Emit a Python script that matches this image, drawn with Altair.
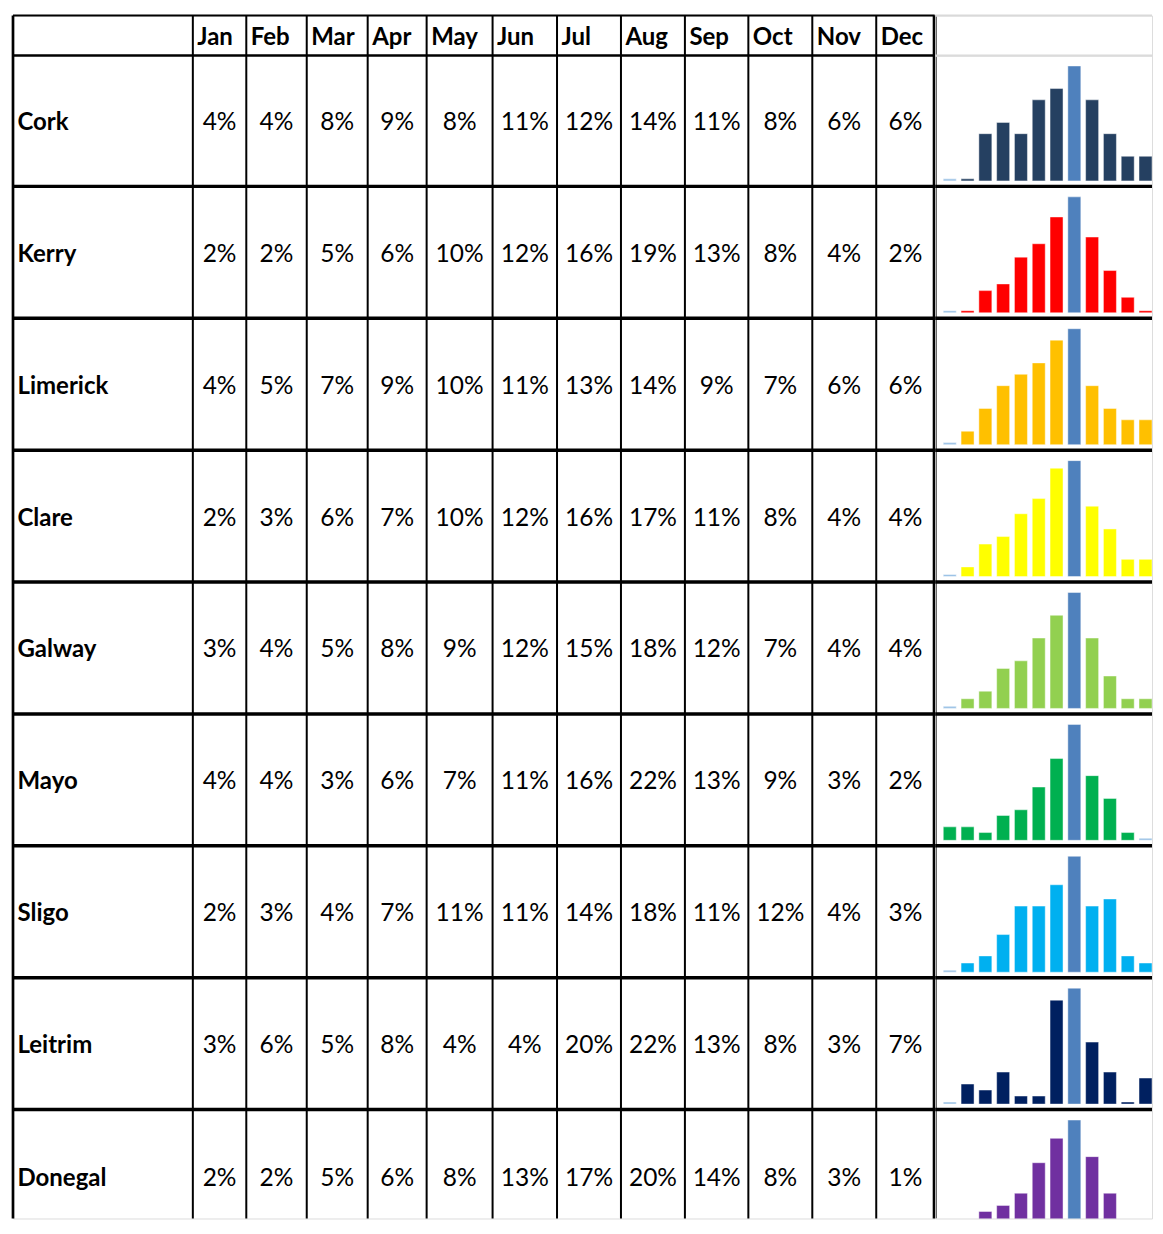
import altair as alt
import pandas as pd

# ---------------- data ----------------
COUNTIES = ["Cork", "Kerry", "Limerick", "Clare", "Galway", "Mayo", "Sligo", "Leitrim", "Donegal"]
MONTHS = ["Jan", "Feb", "Mar", "Apr", "May", "Jun", "Jul", "Aug", "Sep", "Oct", "Nov", "Dec"]

CORK = [4, 4, 8, 9, 8, 11, 12, 14, 11, 8, 6, 6]
KERRY = [2, 2, 5, 6, 10, 12, 16, 19, 13, 8, 4, 2]
LIMERICK = [4, 5, 7, 9, 10, 11, 13, 14, 9, 7, 6, 6]
CLARE = [2, 3, 6, 7, 10, 12, 16, 17, 11, 8, 4, 4]
GALWAY = [3, 4, 5, 8, 9, 12, 15, 18, 12, 7, 4, 4]
MAYO = [4, 4, 3, 6, 7, 11, 16, 22, 13, 9, 3, 2]
SLIGO = [2, 3, 4, 7, 11, 11, 14, 18, 11, 12, 4, 3]
LEITRIM = [3, 6, 5, 8, 4, 4, 20, 22, 13, 8, 3, 7]
DONEGAL = [2, 2, 5, 6, 8, 13, 17, 20, 14, 8, 3, 1]

SERIES = [CORK, KERRY, LIMERICK, CLARE, GALWAY, MAYO, SLIGO, LEITRIM, DONEGAL]
BAR_COLORS = ["#254061", "#FF0000", "#FFC000", "#FFFF00", "#92D050",
              "#00B050", "#00B0F0", "#002060", "#7030A0"]
HIGH_COLOR = "#4F81BD"
LOW_COLOR = "#9DC3E6"

# ---------------- layout (styling only) ----------------
NAME_W = 180
MONTH_W = [53.5, 60.5, 61, 59, 66, 64.5, 64, 64, 63.5, 64, 64, 58.5]
HEADER_H = 40
ROW_H = [131, 132, 132, 132, 132, 132, 132, 132, 134]
VISIBLE_H = 1204          # part of the table that fits in the page
SPARK_W = 217             # visible width of the sparkline column
FONT = "Lato"
FS = 24
FS_VAL = 24.5
TEXT_DY = 9.5

edges = [0, NAME_W]
for w in MONTH_W:
    edges.append(edges[-1] + w)
TABLE_W = edges[-1]
tops = [0, HEADER_H]
for h in ROW_H:
    tops.append(tops[-1] + h)

xs = alt.Scale(domain=[0, TABLE_W], range=[0, TABLE_W], nice=False, zero=False)
ys = alt.Scale(domain=[0, VISIBLE_H], range=[0, VISIBLE_H], nice=False, zero=False)
X = lambda f: alt.X(f, type="quantitative", scale=xs, axis=None)
Y = lambda f: alt.Y(f, type="quantitative", scale=ys, axis=None)

# ---------------- table texts ----------------
cells = []
for i, (name, vals) in enumerate(zip(COUNTIES, SERIES)):
    yc = (tops[i + 1] + tops[i + 2]) / 2
    for j, v in enumerate(vals):
        cells.append({"x": (edges[j + 1] + edges[j + 2]) / 2, "y": yc, "label": f"{v}%"})
cells_df = pd.DataFrame(cells)

names_df = pd.DataFrame({
    "x": [4.5] * len(COUNTIES),
    "y": [(tops[i + 1] + tops[i + 2]) / 2 for i in range(len(COUNTIES))],
    "label": COUNTIES,
})
heads_df = pd.DataFrame({
    "x": [edges[j + 1] + 4.5 for j in range(len(MONTHS))],
    "y": [HEADER_H / 2] * len(MONTHS),
    "label": MONTHS,
})

value_text = alt.Chart(cells_df).mark_text(
    font=FONT, fontSize=FS_VAL, baseline="alphabetic", align="center", dy=TEXT_DY, color="black"
).encode(x=X("x"), y=Y("y"), text="label:N")
name_text = alt.Chart(names_df).mark_text(
    font=FONT, fontSize=FS, fontWeight="bold", baseline="alphabetic", align="left", dy=TEXT_DY, color="black"
).encode(x=X("x"), y=Y("y"), text="label:N")
head_text = alt.Chart(heads_df).mark_text(
    font=FONT, fontSize=FS, fontWeight="bold", baseline="alphabetic", align="left", dy=TEXT_DY, color="black"
).encode(x=X("x"), y=Y("y"), text="label:N")

# ---------------- table lines ----------------
vlines_df = pd.DataFrame({"x": edges[1:-1], "y0": 0, "y1": VISIBLE_H})
vlines = alt.Chart(vlines_df).mark_rule(color="black", strokeWidth=2).encode(x=X("x"), y=Y("y0"), y2="y1:Q")
left_df = pd.DataFrame({"x": [0], "y0": [0], "y1": [VISIBLE_H]})
left_line = alt.Chart(left_df).mark_rule(color="black", strokeWidth=2.7).encode(x=X("x"), y=Y("y0"), y2="y1:Q")
right_df = pd.DataFrame({"x": [TABLE_W], "y0": [0], "y1": [VISIBLE_H]})
right_line = alt.Chart(right_df).mark_rule(color="black", strokeWidth=4).encode(x=X("x"), y=Y("y0"), y2="y1:Q")
top_df = pd.DataFrame({"y": [0], "x0": [0], "x1": [TABLE_W]})
top_line = alt.Chart(top_df).mark_rule(color="black", strokeWidth=2).encode(y=Y("y"), x=X("x0"), x2="x1:Q")
hdr_df = pd.DataFrame({"y": [HEADER_H], "x0": [0], "x1": [TABLE_W]})
hdr_line = alt.Chart(hdr_df).mark_rule(color="black", strokeWidth=2.5).encode(y=Y("y"), x=X("x0"), x2="x1:Q")
rows_df = pd.DataFrame({"y": [t for t in tops[2:] if t < VISIBLE_H], "x0": 0, "x1": TABLE_W})
row_lines = alt.Chart(rows_df).mark_rule(color="black", strokeWidth=3.5).encode(y=Y("y"), x=X("x0"), x2="x1:Q")

table = alt.layer(
    vlines, left_line, right_line, top_line, hdr_line, row_lines,
    head_text, name_text, value_text,
).properties(width=TABLE_W, height=VISIBLE_H)

# ---------------- sparklines ----------------
one = pd.DataFrame({"a": [0]})


def hrule(y, color, width):
    return alt.Chart(one).mark_rule(color=color, strokeWidth=width).encode(
        x=alt.value(0), x2=alt.value(SPARK_W), y=alt.value(y))


spacer = alt.layer(hrule(0, "#D9D9D9", 2), hrule(HEADER_H, "#D9D9D9", 2)).properties(
    width=SPARK_W, height=HEADER_H)

sparks = [spacer]
used = HEADER_H
for i, (vals, col, h) in enumerate(zip(SERIES, BAR_COLORS, ROW_H)):
    vis_h = min(h, VISIBLE_H - used)
    used += h
    lo, hi = min(vals), max(vals)
    base = lo - 0.018 * (hi - lo)
    kinds = ["normal"] * len(vals)
    kinds[vals.index(hi)] = "high"
    kinds[vals.index(lo)] = "low"
    df = pd.DataFrame({"month": MONTHS, "value": vals, "base": base, "kind": kinds})
    bars = alt.Chart(df).mark_bar(stroke="white", strokeOpacity=0.45, strokeWidth=1, clip=True).encode(
        x=alt.X("month:N", sort=MONTHS, axis=None,
                scale=alt.Scale(paddingInner=0.27, paddingOuter=0.227, align=1)),
        y=alt.Y("value:Q", axis=None,
                scale=alt.Scale(domain=[base, hi], range=[h - 5.5, 10.5], zero=False, nice=False)),
        y2="base:Q",
        color=alt.when(alt.datum.kind == "high").then(alt.value(HIGH_COLOR))
        .when(alt.datum.kind == "low").then(alt.value(LOW_COLOR))
        .otherwise(alt.value(col)),
    )
    layers = [bars]
    if i > 0:
        layers.append(hrule(0, "black", 3.5))
    sparks.append(alt.layer(*layers).properties(width=SPARK_W, height=vis_h))

spark_col = alt.vconcat(*sparks, spacing=0, bounds="flush").resolve_scale(
    x="independent", y="independent")

chart = alt.hconcat(table, spark_col, spacing=0, bounds="flush").resolve_scale(
    x="independent", y="independent"
).properties(
    padding={"left": 2, "top": 4, "right": 0, "bottom": 0}
).configure_view(strokeWidth=0).configure(background="white")

chart.save("out.html", embed_options={"renderer": "svg", "actions": False})
